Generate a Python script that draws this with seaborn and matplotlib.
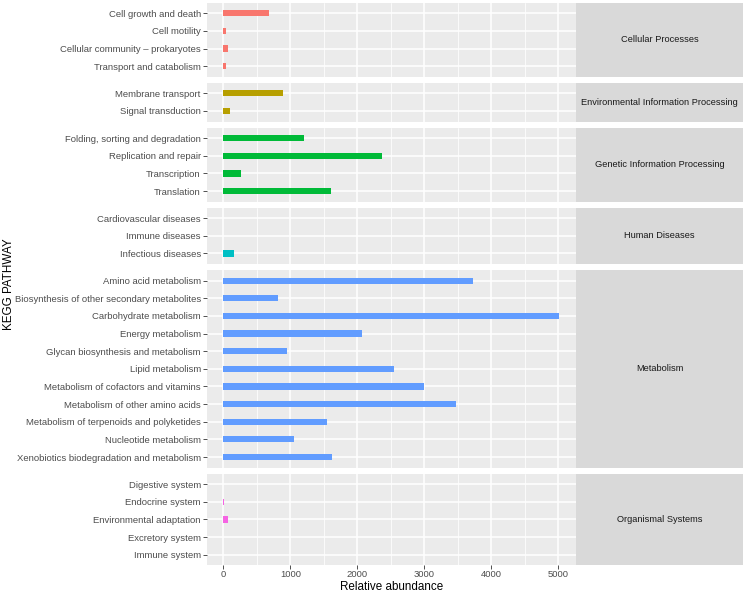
import numpy as np
import pandas as pd
import matplotlib
matplotlib.use("Agg")
import matplotlib.pyplot as plt
import seaborn as sns
from matplotlib.ticker import MultipleLocator

# KEGG level 1 groups (facet rows) and their colours (ggplot hue palette)
levels = ["Cellular Processes", "Environmental Information Processing",
          "Genetic Information Processing", "Human Diseases",
          "Metabolism", "Organismal Systems"]
level_colors = ["#F8766D", "#B79F00", "#00BA38", "#00BFC4", "#619CFF", "#F564E3"]

# level 2 pathways, with the group they belong to and the abundance
pathways = [
    "Cell growth and death", "Cell motility", "Cellular community \u2013 prokaryotes", "Transport and catabolism",
    "Membrane transport", "Signal transduction",
    "Folding, sorting and degradation", "Replication and repair", "Transcription", "Translation",
    "Cardiovascular diseases", "Immune diseases", "Infectious diseases",
    "Amino acid metabolism", "Biosynthesis of other secondary metabolites", "Carbohydrate metabolism",
    "Energy metabolism", "Glycan biosynthesis and metabolism", "Lipid metabolism",
    "Metabolism of cofactors and vitamins", "Metabolism of other amino acids",
    "Metabolism of terpenoids and polyketides", "Nucleotide metabolism",
    "Xenobiotics biodegradation and metabolism",
    "Digestive system", "Endocrine system", "Environmental adaptation", "Excretory system", "Immune system",
]
pathway_level = (["Cellular Processes"] * 4 + ["Environmental Information Processing"] * 2
                 + ["Genetic Information Processing"] * 4 + ["Human Diseases"] * 3
                 + ["Metabolism"] * 11 + ["Organismal Systems"] * 5)
abundance = [
    673, 35, 60, 45,
    891, 104,
    1208, 2362, 267, 1605,
    0, 0, 158,
    3733, 807, 5005, 2069, 955, 2545, 2992, 3480, 1550, 1059, 1624,
    0, 8, 62, 0, 0,
]

df = pd.DataFrame({"pathway": pathways, "level": pathway_level, "value": abundance})

sns.set_theme(style="darkgrid", rc={
    "axes.facecolor": "#EBEBEB", "grid.color": "white",
    "axes.edgecolor": "none",
})
plt.rcParams["font.family"] = ["Liberation Sans", "DejaVu Sans"]

W, H = 748, 595
fig = plt.figure(figsize=(W / 100, H / 100), dpi=100)

panel_left, panel_right = 206.7, 576.0
strip_right = 743.3
top, bottom = 2.7, 565.3
gap = 6.0
counts = [int((df["level"] == lv).sum()) for lv in levels]
units = sum(c + 0.2 for c in counts)
u = (bottom - top - gap * (len(levels) - 1)) / units

xmin, xmax = -250.7, 5265
label_size = 6.8
y_cursor = top
for i, (lv, col, n) in enumerate(zip(levels, level_colors, counts)):
    h = (n + 0.2) * u
    rect = [panel_left / W, 1 - (y_cursor + h) / H, (panel_right - panel_left) / W, h / H]
    ax = fig.add_axes(rect)
    sub = df[df["level"] == lv]
    sns.barplot(data=sub, y="pathway", x="value", order=list(sub["pathway"]),
                color=col, width=0.35, saturation=1, linewidth=0, edgecolor="none", ax=ax)
    ax.set_xlim(xmin, xmax)
    ax.set_ylim(n - 0.4, -0.6)
    ax.xaxis.set_major_locator(MultipleLocator(1000))
    ax.xaxis.set_minor_locator(MultipleLocator(500))
    ax.grid(which="major", color="white", linewidth=1.1)
    ax.grid(which="minor", axis="x", color="white", linewidth=0.55)
    ax.set_axisbelow(True)
    ax.set_xlabel("")
    ax.set_ylabel("")
    ax.tick_params(axis="y", which="major", left=True, length=2.75, width=0.6,
                   color="#333333", labelsize=label_size, labelcolor="#4D4D4D", pad=1.5)
    last = i == len(levels) - 1
    ax.tick_params(axis="x", which="major", bottom=last, labelbottom=last, length=2.75,
                   width=0.6, color="#333333", labelsize=label_size, labelcolor="#4D4D4D", pad=0.6)
    ax.tick_params(axis="x", which="minor", bottom=False)

    # facet strip on the right
    sax = fig.add_axes([panel_right / W, rect[1], (strip_right - panel_right) / W, rect[3]])
    sax.set_facecolor("#D9D9D9")
    sax.set_xticks([])
    sax.set_yticks([])
    sax.grid(False)
    sax.text(0.5, 0.5, lv, ha="center", va="center", fontsize=6.7, color="#1A1A1A",
             transform=sax.transAxes)

    y_cursor += h + gap

fig.text((panel_left + panel_right) / 2 / W, 1 - 586.5 / H, "Relative abundance",
         ha="center", va="center", fontsize=8.4, color="black")
fig.text(9 / W, 1 - (top + bottom) / 2 / H, "KEGG PATHWAY", rotation=90,
         ha="center", va="center", fontsize=8.4, color="black")

fig.savefig("out.png", dpi=100)
